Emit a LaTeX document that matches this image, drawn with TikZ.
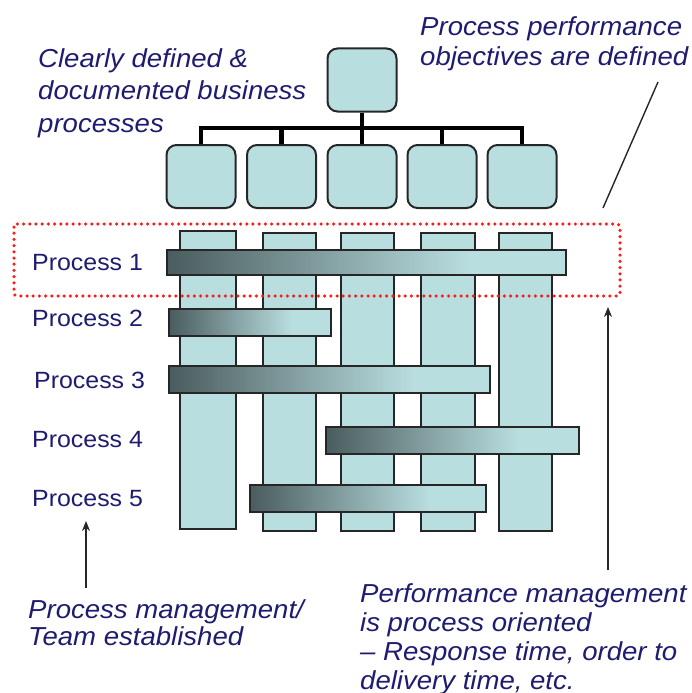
\documentclass[tikz,border=0pt]{standalone}
\usepackage{fontspec}
\newfontfamily\diagfont[FakeStretch=1.06, Ligatures=TeX]{Liberation Sans}
\usetikzlibrary{arrows.meta}
\usepackage{xcolor}

\definecolor{boxfill}{RGB}{185,222,224}
\definecolor{bardark}{RGB}{74,92,94}
\definecolor{notecol}{RGB}{30,28,112}
\pgfdeclarehorizontalshading{barshade}{100bp}{color(0bp)=(bardark); color(25bp)=(bardark); color(63bp)=(boxfill); color(100bp)=(boxfill)}

\begin{document}
\begin{tikzpicture}[x=1pt, y=-1pt,
	orgbox/.style={draw=black!85, line width=2pt, fill=boxfill, rounded corners=10pt, minimum width=69pt, minimum height=63pt, inner sep=0pt},
	tree/.style={line width=4.5pt, black},
	colbar/.style={draw=black!85, line width=1.8pt, fill=boxfill},
	procbar/.style={draw=black!85, line width=1.8pt, shading=barshade},
	focus/.style={draw=red!90!white, line width=3.5pt, dash pattern=on 0pt off 6.2pt, line cap=round, rounded corners=3pt},
	note/.style={text=notecol, align=left, anchor=north west, inner sep=0pt},
	plabel/.style={font=\diagfont\fontsize{23.5}{28}\selectfont, text=notecol, anchor=base west, inner sep=0pt},
	pointer/.style={line width=1.8pt, black!85, -{Stealth[length=10pt, width=8pt]}}]
	\useasboundingbox (0,0) rectangle (691,693);

	% org chart
	\node[orgbox] (top) at (362,80) {};
	\foreach \cx [count=\i] in {201,281.5,362,442,522}
		\node[orgbox] (c\i) at (\cx,176.5) {};
	\coordinate (bus) at (362,128);
	\draw[tree] (c1.north) |- (bus) -| (c5.north);
	\draw[tree] (top.south) -- (c3.north);
	\draw[tree] (c2.north) -- (c2.north |- bus);
	\draw[tree] (c4.north) -- (c4.north |- bus);

	% columns
	\draw[colbar] (180,231) rectangle (236,529);
	\draw[colbar] (263,233) rectangle (316,531);
	\draw[colbar] (341,233) rectangle (394,531);
	\draw[colbar] (421,233) rectangle (475,531);
	\draw[colbar] (499,233) rectangle (552,531);

	% processes
	\draw[procbar] (167,250) rectangle (566,275);
	\draw[procbar] (169,309) rectangle (331,336);
	\draw[procbar] (169,366) rectangle (490,393);
	\draw[procbar] (326,427) rectangle (579,454);
	\draw[procbar] (250,485) rectangle (486,512);

	\node[plabel] (p1) at (32,270) {Process 1};
	\node[plabel] (p2) at (32,326) {Process 2};
	\node[plabel] (p3) at (34,388) {Process 3};
	\node[plabel] (p4) at (32,447) {Process 4};
	\node[plabel] (p5) at (32,506) {Process 5};

	\draw[focus] (14,224) rectangle (620,296);

	% notes
	\node[note, font=\diagfont\itshape\fontsize{26}{32.5}\selectfont] (defined) at (38,48)
		{Clearly defined \&\\documented business\\processes};
	\node[note, font=\diagfont\itshape\fontsize{26}{30}\selectfont] (objectives) at (420,16)
		{Process performance\\objectives are defined};
	\node[note, font=\diagfont\itshape\fontsize{26}{27}\selectfont] (team) at (28,599)
		{Process management/\\Team established};
	\node[note, font=\diagfont\itshape\fontsize{26}{29}\selectfont] (perf) at (360,583)
		{Performance management\\is process oriented\\-- Response time, order to\\delivery time, etc.};

	\coordinate (objtip) at (658,82);
	\coordinate (objfoot) at (603,208);
	\coordinate (teamtail) at (86,588);
	\coordinate (teamhead) at (86,521);
	\coordinate (perftail) at (608,570);
	\coordinate (perfhead) at (608,307);

	\draw[line width=1.4pt, black!85] (objfoot) -- (objtip);
	\draw[pointer] (teamtail) -- (teamhead);
	\draw[pointer] (perftail) -- (perfhead);
\end{tikzpicture}
\end{document}
